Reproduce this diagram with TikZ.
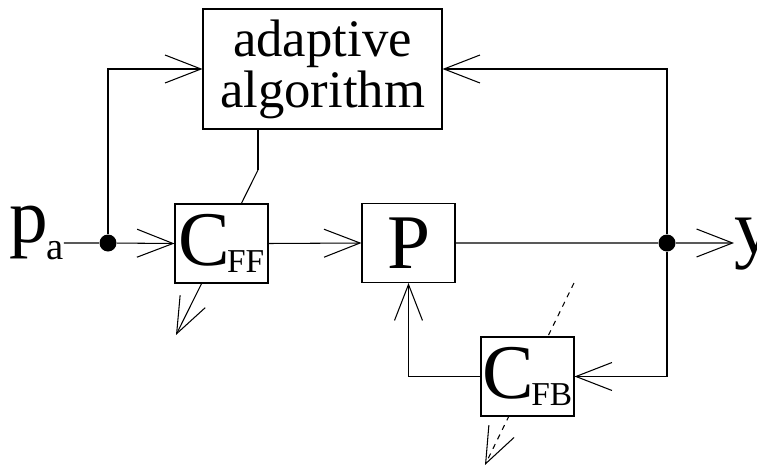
\documentclass[tikz,border=0pt]{standalone}
\usepackage{fontspec}
\setmainfont{Liberation Serif}
\usetikzlibrary{arrows.meta}
\newcommand{\bigtxt}{\fontsize{44}{44}\selectfont}
\newcommand{\idx}[1]{\kern-0.04em\raisebox{-4pt}{\fontsize{19}{19}\selectfont #1}}

\begin{document}
\begin{tikzpicture}[scale=0.2,
    blk/.style={draw, fill=white, inner sep=0pt, minimum width=1.86cm, minimum height=1.58cm, font=\bigtxt},
    lbl/.style={inner sep=0pt, font=\bigtxt},
    dot/.style={circle, fill, inner sep=0pt, minimum size=0.34cm},
    >={Straight Barb[length=7.2mm,width=5.6mm]},
    line width=0.6pt]
    \useasboundingbox (0,0) rectangle (75.7,-46.8);
    % adaptation paths, under the blocks
    \coordinate (kff) at (25.8,-17);
    \coordinate (kffend) at (17.6,-33.5);
    \coordinate (kfb) at (57.4,-28.3);
    \coordinate (kfbend) at (48.5,-46.5);
    \draw [->] (kff) -- (kffend);
    \draw [->, dashed] (kfb) -- (kfbend);
    % blocks
    \node [blk, minimum width=4.78cm, minimum height=2.4cm, font=\fontsize{30}{29}\selectfont, align=center] (alg) at (32.25,-6.9) {adaptive\\algorithm};
    \node [blk] (cff) at (22.15,-24.35) {C\idx{FF}};
    \node [blk] (p) at (40.85,-24.3) {P};
    \node [blk] (cfb) at (52.75,-37.65) {C\idx{FB}};
    \node [dot] (din) at (10.8,-24.3) {};
    \node [dot] (dout) at (66.7,-24.3) {};
    \node [lbl, anchor=base east] (pa) at (6.4,-24.2) {p\kern-0.03em\raisebox{-10pt}{\fontsize{22}{22}\selectfont a}};
    \node [lbl, anchor=base west] (y) at (73.4,-25.3) {y};
    % signal lines
    \draw (pa.east |- din) -- (din);
    \draw [->] (din) -- (cff.west);
    \draw [->] (cff.east) -- (p.west);
    \draw (p.east) -- (dout);
    \draw [->] (dout) -- (y.west |- dout);
    \draw [->] (din) |- (alg.west);
    \draw [->] (dout) |- (alg.east);
    \draw [->] (dout) |- (cfb.east);
    \draw [->] (cfb.west) -| (p.south);
    \draw (alg.south -| kff) -- (kff);
\end{tikzpicture}
\end{document}
